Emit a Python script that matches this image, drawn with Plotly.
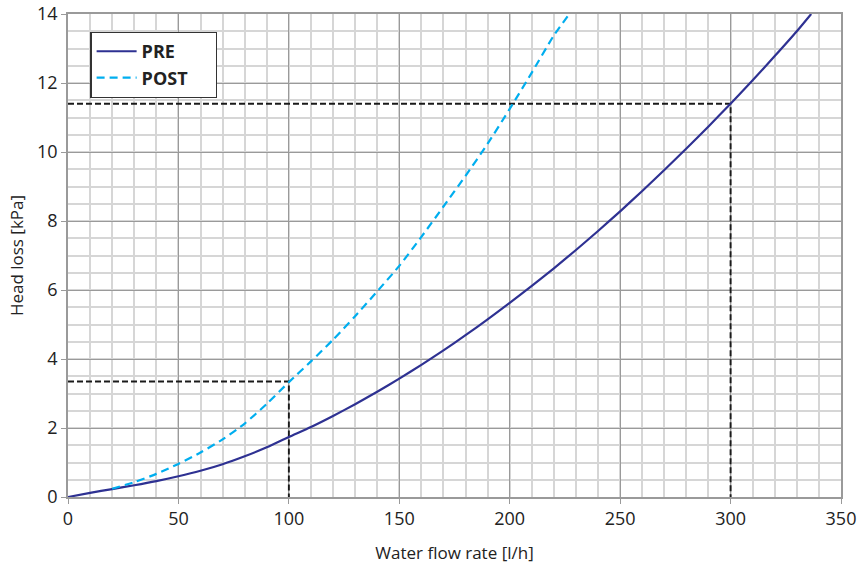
import plotly.graph_objects as go

# Data
pre_x = [0, 10, 20, 30, 40, 50, 60, 70, 80, 90, 100, 110, 120, 130, 140, 150, 160, 170,
         180, 190, 200, 210, 220, 230, 240, 250, 260, 270, 280, 290, 300, 310, 320, 330, 336.5]
pre_y = [0, 0.12, 0.23, 0.34, 0.46, 0.6, 0.76, 0.95, 1.18, 1.44, 1.74, 2.03, 2.35, 2.69, 3.05,
         3.43, 3.83, 4.25, 4.69, 5.15, 5.63, 6.12, 6.63, 7.16, 7.71, 8.28, 8.87, 9.48, 10.1,
         10.74, 11.4, 12.08, 12.78, 13.5, 14.0]

post_x = [20, 30, 40, 50, 60, 70, 80, 90, 100, 110, 120, 130, 140, 150, 160, 170, 180, 190,
          200, 210, 220, 227]
post_y = [0.24, 0.43, 0.67, 0.96, 1.29, 1.67, 2.13, 2.70, 3.33, 3.93, 4.56, 5.24, 5.96, 6.70,
          7.54, 8.42, 9.31, 10.24, 11.25, 12.30, 13.38, 14.0]

# Reference (reading) points marked with dashed guides
ref_x = [100, 300]
ref_y = [3.35, 11.4]

x_ticks = [0, 50, 100, 150, 200, 250, 300, 350]
y_ticks = [0, 2, 4, 6, 8, 10, 12, 14]

fig = go.Figure()

# Dashed guide lines
for rx, ry in zip(ref_x, ref_y):
    fig.add_trace(go.Scatter(x=[0, rx, rx], y=[ry, ry, 0], mode="lines",
                             line=dict(color="#1a1a1a", width=1.9, dash="6px,3px"),
                             showlegend=False, hoverinfo="skip"))

pad = "\u00a0" * 5
fig.add_trace(go.Scatter(x=pre_x, y=pre_y, mode="lines", name="PRE" + pad,
                         line=dict(color="#2e3192", width=2.2, shape="spline", smoothing=0.6)))
fig.add_trace(go.Scatter(x=post_x, y=post_y, mode="lines", name="POST" + pad,
                         line=dict(color="#00aeef", width=2.2, dash="8px,5px",
                                   shape="spline", smoothing=0.6)))

tickfont = dict(family="Open Sans", size=18, color="#222222")

fig.update_layout(
    width=858, height=571,
    margin=dict(l=68, r=17, t=14, b=74),
    paper_bgcolor="white", plot_bgcolor="white",
    font=dict(family="Open Sans", color="#222222"),
    showlegend=True,
    legend=dict(x=0.029, y=0.963, xanchor="left", yanchor="top",
                bgcolor="white", bordercolor="#333333", borderwidth=1.2,
                font=dict(family="Open Sans", size=18, color="#222222", weight="bold"),
                itemwidth=40, tracegroupgap=0),
    xaxis=dict(range=[0, 350], tickvals=x_ticks, ticktext=[str(v) for v in x_ticks],
               automargin=False, ticklabeloverflow="allow",
               showgrid=True, gridcolor="#9a9a9a", gridwidth=1,
               minor=dict(dtick=10, tick0=0, showgrid=True, gridcolor="#d6d6d6", gridwidth=1.5),
               showline=True, linecolor="#9a9a9a", linewidth=1.5, mirror=True,
               ticks="outside", ticklen=5, tickcolor="#9a9a9a", tickfont=tickfont,
               zeroline=False,
               title=dict(text="Water flow rate [l/h]", font=dict(family="Open Sans", size=17),
                          standoff=18)),
    yaxis=dict(range=[0, 14], tickvals=y_ticks, ticktext=[str(v) for v in y_ticks],
               automargin=False, ticklabeloverflow="allow",
               showgrid=True, gridcolor="#9a9a9a", gridwidth=1,
               minor=dict(dtick=0.5, tick0=0, showgrid=True, gridcolor="#d6d6d6", gridwidth=1.5),
               showline=True, linecolor="#9a9a9a", linewidth=1.5, mirror=True,
               ticks="outside", ticklen=5, tickcolor="#9a9a9a", tickfont=tickfont,
               zeroline=False,
               title=dict(text="Head loss [kPa]", font=dict(family="Open Sans", size=17),
                          standoff=9)),
)

fig.write_html("out.html", config={"displayModeBar": False},
               post_script="document.body.style.margin='0';document.body.style.overflow='hidden';")
